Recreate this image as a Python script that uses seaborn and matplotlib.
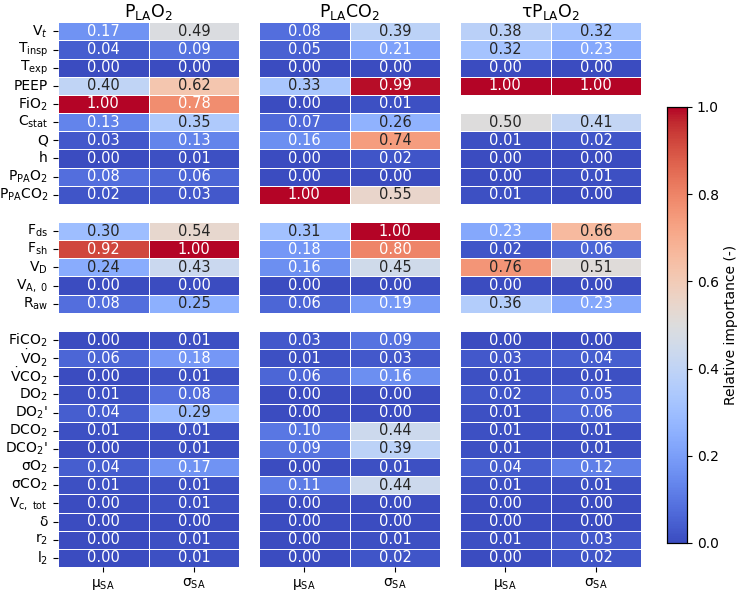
import numpy as np
import pandas as pd
import matplotlib
matplotlib.use("Agg")
import matplotlib.pyplot as plt
import seaborn as sns

# parameter labels, None marks the blank spacer rows between groups
params = [
    "V$_t$", r"T$_{\mathrm{insp}}$", r"T$_{\mathrm{exp}}$", "PEEP", "FiO$_2$",
    r"C$_{\mathrm{stat}}$", "Q", "h", r"P$_{\mathrm{PA}}$O$_2$", r"P$_{\mathrm{PA}}$CO$_2$",
    None,
    r"F$_{\mathrm{ds}}$", r"F$_{\mathrm{sh}}$", r"V$_{\mathrm{D}}$", r"V$_{\mathrm{A,\ 0}}$", r"R$_{\mathrm{aw}}$",
    None,
    "FiCO$_2$", r"$\dot{\mathrm{V}}$O$_2$", r"$\dot{\mathrm{V}}$CO$_2$", "DO$_2$", "DO$_2$'",
    "DCO$_2$", "DCO$_2$'", "σO$_2$", "σCO$_2$", r"V$_{\mathrm{c,\ tot}}$", "δ", "r$_2$", "l$_2$",
]

col_labels = [r"μ$_{\mathrm{SA}}$", r"σ$_{\mathrm{SA}}$"]
titles = [r"P$_{\mathrm{LA}}$O$_2$", r"P$_{\mathrm{LA}}$CO$_2$", r"τP$_{\mathrm{LA}}$O$_2$"]

nan = np.nan
plao2_mu = [0.17, 0.04, 0.00, 0.40, 1.00, 0.13, 0.03, 0.00, 0.08, 0.02, nan,
            0.30, 0.92, 0.24, 0.00, 0.08, nan,
            0.00, 0.06, 0.00, 0.01, 0.04, 0.01, 0.00, 0.04, 0.01, 0.00, 0.00, 0.00, 0.00]
plao2_sigma = [0.49, 0.09, 0.00, 0.62, 0.78, 0.35, 0.13, 0.01, 0.06, 0.03, nan,
               0.54, 1.00, 0.43, 0.00, 0.25, nan,
               0.01, 0.18, 0.01, 0.08, 0.29, 0.01, 0.01, 0.17, 0.01, 0.01, 0.00, 0.01, 0.01]

placo2_mu = [0.08, 0.05, 0.00, 0.33, 0.00, 0.07, 0.16, 0.00, 0.00, 1.00, nan,
             0.31, 0.18, 0.16, 0.00, 0.06, nan,
             0.03, 0.01, 0.06, 0.00, 0.00, 0.10, 0.09, 0.00, 0.11, 0.00, 0.00, 0.00, 0.00]
placo2_sigma = [0.39, 0.21, 0.00, 0.99, 0.01, 0.26, 0.74, 0.02, 0.00, 0.55, nan,
                1.00, 0.80, 0.45, 0.00, 0.19, nan,
                0.09, 0.03, 0.16, 0.00, 0.00, 0.44, 0.39, 0.01, 0.44, 0.00, 0.00, 0.01, 0.02]

tau_mu = [0.38, 0.32, 0.00, 1.00, nan, 0.50, 0.01, 0.00, 0.00, 0.01, nan,
          0.23, 0.02, 0.76, 0.00, 0.36, nan,
          0.00, 0.03, 0.01, 0.02, 0.01, 0.01, 0.01, 0.04, 0.01, 0.00, 0.00, 0.01, 0.00]
tau_sigma = [0.32, 0.23, 0.00, 1.00, nan, 0.41, 0.02, 0.00, 0.01, 0.00, nan,
             0.66, 0.06, 0.51, 0.00, 0.23, nan,
             0.00, 0.04, 0.01, 0.05, 0.06, 0.01, 0.01, 0.12, 0.01, 0.00, 0.00, 0.03, 0.02]

panels = [(plao2_mu, plao2_sigma), (placo2_mu, placo2_sigma), (tau_mu, tau_sigma)]

fig = plt.figure(figsize=(7.39, 5.94), dpi=100)
lefts = [0.078, 0.350, 0.622]
axes = [fig.add_axes([l, 0.0455, 0.246, 0.917]) for l in lefts]
cax = fig.add_axes([0.9026, 0.086, 0.027, 0.734])

tick_pos = [i + 0.5 for i, p in enumerate(params) if p is not None]
tick_lab = [p for p in params if p is not None]

for k, (ax, (mu, sig)) in enumerate(zip(axes, panels)):
    df = pd.DataFrame({col_labels[0]: mu, col_labels[1]: sig})
    sns.heatmap(df, ax=ax, cmap="coolwarm", vmin=0, vmax=1, annot=True, fmt=".2f",
                annot_kws={"fontsize": 10.5}, linewidths=0.6, linecolor="white",
                cbar=(k == 0), cbar_ax=cax if k == 0 else None,
                cbar_kws={"label": "Relative importance (-)"})
    ax.set_title(titles[k], fontsize=12.5, pad=4)
    ax.set_xticklabels(col_labels, fontsize=10)
    ax.tick_params(axis="x", rotation=0)
    if k == 0:
        ax.set_yticks(tick_pos)
        ax.set_yticklabels(tick_lab, fontsize=10, rotation=0)
    else:
        ax.set_yticks([])

cax.tick_params(labelsize=10)
cax.set_ylabel("Relative importance (-)", fontsize=10, labelpad=4)
for s in cax.spines.values():
    s.set_visible(True)
    s.set_linewidth(0.8)

fig.savefig("out.png", dpi=100)
